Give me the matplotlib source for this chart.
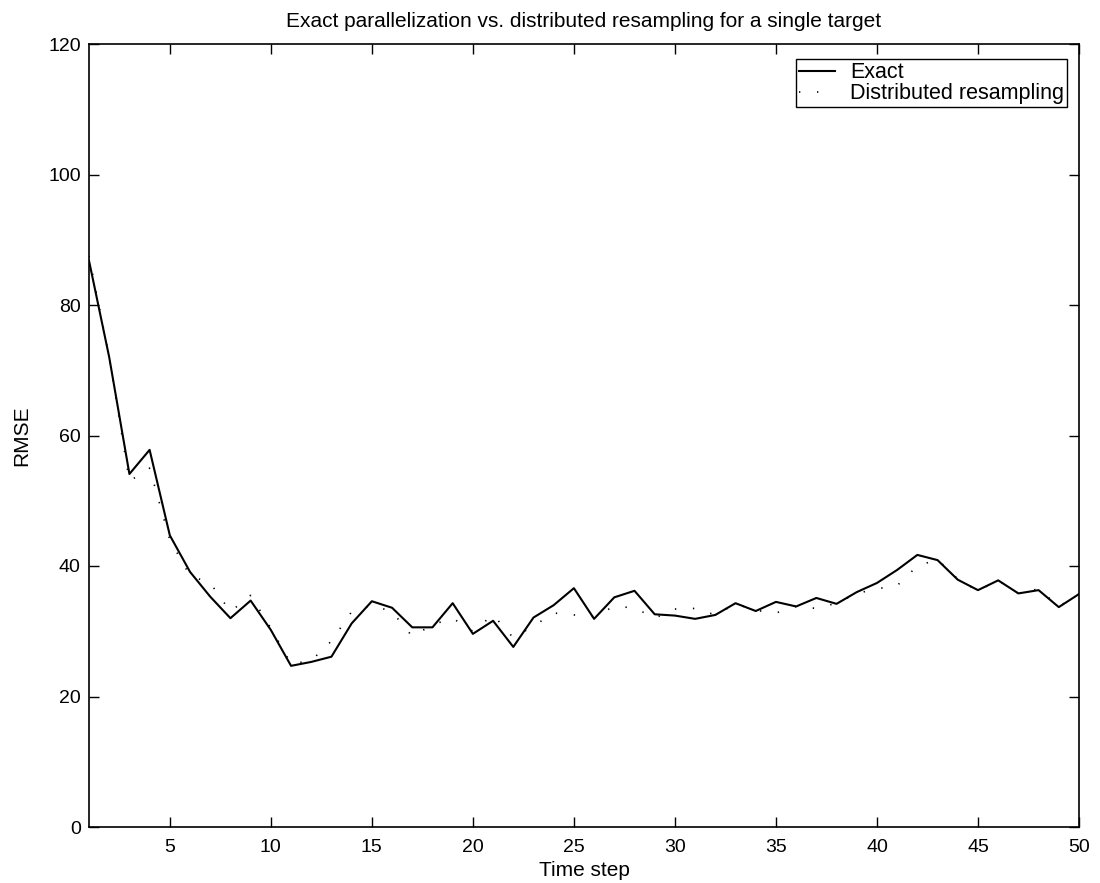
import numpy as np
import matplotlib
matplotlib.use("Agg")
import matplotlib.pyplot as plt

plt.rcParams['font.family'] = ['Liberation Sans', 'DejaVu Sans']

# RMSE per time step
time_step = list(range(1, 51))
exact = [86.8, 72.0, 54.1, 57.8, 44.7, 39.1, 35.3, 32.0, 34.7, 30.2,
         24.7, 25.3, 26.1, 31.2, 34.6, 33.6, 30.6, 30.6, 34.3, 29.6,
         31.6, 27.6, 32.1, 34.0, 36.6, 31.9, 35.2, 36.2, 32.6, 32.4,
         31.9, 32.5, 34.3, 33.1, 34.5, 33.8, 35.1, 34.2, 36.0, 37.4,
         39.4, 41.7, 40.9, 37.9, 36.3, 37.8, 35.8, 36.3, 33.7, 35.7]
distributed = [87.5, 72.0, 53.0, 55.0, 44.0, 38.5, 37.4, 33.0, 35.5, 30.5,
               25.0, 25.5, 28.5, 33.0, 34.0, 33.0, 29.2, 31.0, 32.0, 30.0,
               32.5, 29.0, 30.8, 32.8, 32.5, 32.3, 33.8, 33.6, 32.0, 33.4,
               33.5, 32.5, 34.2, 33.2, 32.8, 33.8, 33.5, 34.3, 35.8, 36.5,
               37.0, 40.0, 41.0, 38.0, 36.2, 37.8, 35.8, 36.5, 33.8, 35.7]

x_ticks = [5, 10, 15, 20, 25, 30, 35, 40, 45, 50]
y_ticks = [0, 20, 40, 60, 80, 100, 120]

fig = plt.figure(figsize=(11, 8.83), dpi=100)
ax = fig.add_axes([89/1100, 56/883, 990/1100, 783/883])

ax.plot(time_step, exact, color='black', lw=1.5, label='Exact')
ax.plot(time_step, distributed, color='black', lw=1.2,
        linestyle=(0, (0.8, 10)), label='Distributed resampling')

ax.set_xlim(1, 50)
ax.set_ylim(0, 120)
ax.set_xticks(x_ticks)
ax.set_yticks(y_ticks)
ax.tick_params(direction='in', length=7, width=1, top=True, right=True,
               labelsize=14)
ax.tick_params(axis='x', pad=9)
ax.tick_params(axis='y', pad=6)
for s in ax.spines.values():
    s.set_linewidth(1.2)

ax.set_title('Exact parallelization vs. distributed resampling for a single target',
             fontsize=15, pad=12)
ax.set_xlabel('Time step', fontsize=15, labelpad=3)
ax.set_ylabel('RMSE', fontsize=15, labelpad=12)

leg = ax.legend(loc='upper right', bbox_to_anchor=(0.988, 0.981),
                borderaxespad=0, fancybox=False, fontsize=15.5,
                handlelength=1.65, handletextpad=0.7, borderpad=0.15,
                labelspacing=0.0, framealpha=1)
leg.get_frame().set_edgecolor('black')
leg.get_frame().set_linewidth(1.0)

fig.savefig('out.png', dpi=100)
